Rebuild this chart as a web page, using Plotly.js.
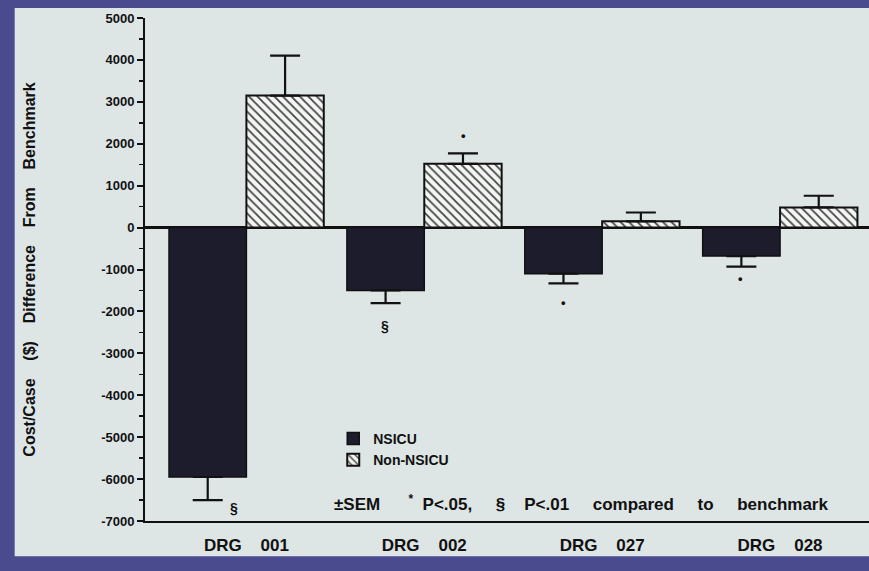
<!DOCTYPE html>
<html><head><meta charset="utf-8">
<script src="https://cdn.plot.ly/plotly-3.0.1.min.js"></script>
<style>html,body{margin:0;padding:0;background:#4a4a8e;}#chart{width:869px;height:571px;}</style>
</head><body><div id="chart"></div>
<script>
const categories = ["DRG    001", "DRG    002", "DRG    027", "DRG    028"];
const nsicu = [-5950, -1500, -1100, -680];
const nsicuSem = [550, 300, 230, 250];
const nonNsicu = [3150, 1520, 150, 480];
const nonNsicuSem = [950, 250, 210, 280];
const yTickValues = [-7000, -6000, -5000, -4000, -3000, -2000, -1000, 0, 1000, 2000, 3000, 4000, 5000];
const yTickLabels = ["-7000", "-6000", "-5000", "-4000", "-3000", "-2000", "-1000", "0", "1000", "2000", "3000", "4000", "5000"];
// significance marks
const sigIndex = [0, 1, 1, 2, 3];
const sigSide = [-1, -1, 1, -1, -1];
const sigValue = [-6680, -2350, 2200, -1780, -1220];
const sigSymbol = ["§", "§", "•", "•", "•"];

function upDown(vals, sems) {
  return {
    plus: vals.map((v, i) => v >= 0 ? sems[i] : 0),
    minus: vals.map((v, i) => v < 0 ? sems[i] : 0)
  };
}
const e1 = upDown(nsicu, nsicuSem);
const e2 = upDown(nonNsicu, nonNsicuSem);

const traces = [
  {type: "bar", name: "NSICU", x: categories, y: nsicu,
   marker: {color: "#1d1c2c", line: {color: "#111", width: 1.5}},
   error_y: {type: "data", symmetric: false, array: e1.plus, arrayminus: e1.minus,
             color: "#111", thickness: 2.2, width: 15}},
  {type: "bar", name: "Non-NSICU", x: categories, y: nonNsicu,
   marker: {color: "#f4f6f4", line: {color: "#111", width: 2},
            pattern: {shape: "\\", fgcolor: "#444", bgcolor: "#f4f6f4", size: 6, solidity: 0.3}},
   error_y: {type: "data", symmetric: false, array: e2.plus, arrayminus: e2.minus,
             color: "#111", thickness: 2.2, width: 15}}
];

const annotations = sigIndex.map((ci, k) => ({
  x: ci + sigSide[k] * 0.22 + (ci === 0 ? 0.15 : 0), y: sigValue[k], xref: "x", yref: "y",
  text: sigSymbol[k], showarrow: false,
  font: {family: "Liberation Sans, Arial", size: sigSymbol[k] === "§" ? 14 : 13, color: "#111", weight: "bold"}
}));
annotations.push({
  xref: "paper", yref: "paper", x: 0.258, y: 0.035, xanchor: "left", yanchor: "middle",
  text: "±SEM      <sup>*</sup>  P<.05,     §    P<.01     compared     to     benchmark", showarrow: false,
  font: {family: "Liberation Sans, Arial", size: 17, color: "#111", weight: "bold"}
});

const layout = {
  width: 869, height: 571,
  margin: {l: 145, r: 0, t: 18, b: 50},
  paper_bgcolor: "#4a4a8e",
  plot_bgcolor: "#dde5e5",
  barmode: "group", bargap: 0.13, bargroupgap: 0,
  showlegend: true,
  legend: {x: 0.26, y: 0.195, xanchor: "left", yanchor: "top", bgcolor: "rgba(0,0,0,0)",
           font: {family: "Liberation Sans, Arial", size: 14, color: "#111", weight: "bold"},
           tracegroupgap: 2, itemwidth: 30},
  font: {family: "Liberation Sans, Arial", color: "#111"},
  xaxis: {range: [-0.57, 3.5], showgrid: false, zeroline: false, showline: true, linecolor: "#111",
          linewidth: 2, ticks: "", ticklabelstandoff: 8, tickfont: {size: 17, weight: "bold", color: "#111"}},
  yaxis: {range: [-7000, 5000], tickvals: yTickValues, ticktext: yTickLabels,
          showgrid: false, zeroline: true, zerolinecolor: "#111",
          zerolinewidth: 2.5, showline: true, linecolor: "#111", linewidth: 2, ticks: "outside",
          ticklen: 6, tickwidth: 2, tickcolor: "#111",
          minor: {dtick: 500, ticks: "outside", ticklen: 4, tickcolor: "#111", tickwidth: 1.5},
          tickfont: {size: 13, weight: "bold", color: "#111"},
          title: {text: "Cost/Case    ($)    Difference    From    Benchmark", standoff: 62,
                  font: {size: 16, weight: "bold", color: "#111"}}},
  shapes: [{type: "rect", xref: "paper", yref: "paper", x0: -0.18, x1: 1.0, y0: -0.07, y1: 1.02,
            fillcolor: "#dde5e5", line: {width: 0}, layer: "below"}],
  annotations: annotations
};
Plotly.newPlot("chart", traces, layout, {displayModeBar: false, staticPlot: true});
</script></body></html>
